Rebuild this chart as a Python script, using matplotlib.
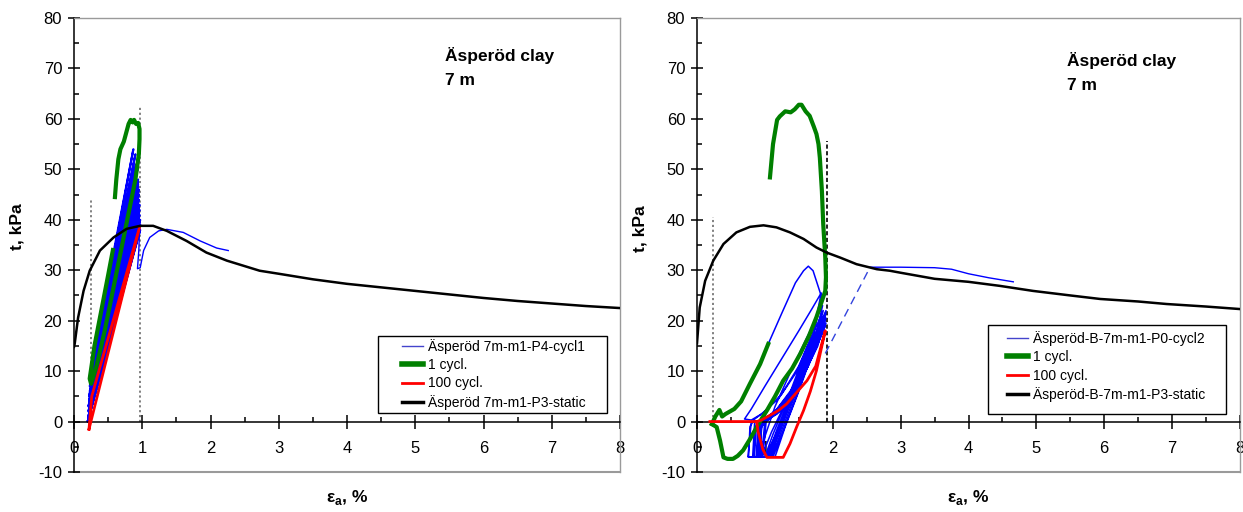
import matplotlib
matplotlib.use("Agg")
import matplotlib.pyplot as plt
from matplotlib.patches import Rectangle

plt.rcParams['font.family'] = ['Liberation Sans', 'DejaVu Sans']
plt.rcParams['mathtext.fontset'] = 'custom'
plt.rcParams['mathtext.rm'] = 'Liberation Sans'
plt.rcParams['mathtext.bf'] = 'Liberation Sans:bold'
plt.rcParams['axes.unicode_minus'] = False

# ---------------- data ----------------
# Left panel: static test
L_static_x = [0.0, 0.01, 0.06, 0.14, 0.23, 0.38, 0.58, 0.77, 0.97, 1.16, 1.36, 1.65, 1.94, 2.24,
              2.72, 3.0, 3.5, 4.0, 4.5, 5.0, 5.5, 6.0, 6.5, 7.0, 7.5, 8.0]
L_static_y = [14.8, 15.4, 20.6, 25.9, 29.9, 33.9, 36.5, 38.2, 38.8, 38.8, 37.8, 35.8, 33.5, 31.9,
              29.9, 29.3, 28.2, 27.3, 26.6, 25.9, 25.2, 24.5, 23.9, 23.4, 22.9, 22.5]
# Left panel: cyclic record (turning points, bottom / top alternating)
L_cyc_x = [0.23, 0.87, 0.24, 0.90, 0.23, 0.91, 0.24, 0.93, 0.23, 0.94, 0.22, 0.94, 0.23, 0.95,
           0.22, 0.95, 0.22, 0.95, 0.22, 0.96, 0.21, 0.96, 0.21, 0.96, 0.21, 0.97, 0.20, 0.97,
           0.20, 0.97, 0.21]
L_cyc_y = [9, 54, 8, 53, 7, 51, 7, 50, 6, 48, 5, 47, 5, 46,
           4, 45, 4, 44, 3, 43, 3, 42, 2, 41, 1, 40, 0, 39,
           0, 38, 1]
# Left panel: post-cyclic monotonic part
L_post_x = [0.96, 0.95, 0.93, 0.97, 1.02, 1.11, 1.24, 1.36, 1.60, 1.85, 2.09, 2.26]
L_post_y = [38.0, 34.0, 30.3, 30.5, 33.9, 36.5, 37.8, 38.1, 37.5, 35.8, 34.4, 33.9]
# Left panel: first cycle
L_c1_x = [0.60, 0.62, 0.65, 0.68, 0.73, 0.77, 0.80, 0.83, 0.86, 0.88, 0.91, 0.94, 0.96, 0.96,
          0.95, 0.90, 0.75, 0.60, 0.45, 0.33, 0.25, 0.23, 0.30, 0.40, 0.50, 0.57]
L_c1_y = [44.5, 48.0, 52.0, 54.0, 55.5, 57.5, 59.0, 59.8, 59.3, 59.8, 59.0, 59.2, 58.0, 56.0,
          53.0, 48.0, 38.0, 28.0, 18.0, 11.0, 7.5, 8.5, 15.0, 22.0, 29.0, 34.0]
# Left panel: 100th cycle
L_c100_x = [0.22, 0.96, 0.26, 0.22]
L_c100_y = [-1.5, 38.5, 5.0, -1.5]
# Left panel: reference strain lines (x, top)
L_vlines_x = [0.245, 0.967]
L_vlines_top = [44.2, 62.6]

# Right panel: static test
R_static_x = [0.0, 0.04, 0.12, 0.24, 0.39, 0.58, 0.78, 0.98, 1.17, 1.37, 1.57, 1.76, 1.91, 2.11,
              2.35, 2.65, 2.84, 3.0, 3.5, 4.0, 4.46, 4.95, 5.5, 5.94, 6.5, 6.92, 7.5, 8.0]
R_static_y = [15.5, 22.6, 27.9, 31.9, 35.2, 37.5, 38.6, 38.9, 38.5, 37.5, 36.2, 34.5, 33.5, 32.5,
              31.2, 30.2, 29.9, 29.5, 28.3, 27.7, 26.9, 25.9, 25.0, 24.3, 23.8, 23.3, 22.8, 22.3]
# Right panel: cyclic record
R_cyc_x = [1.05, 1.25, 1.45, 1.57, 1.64, 1.71, 1.79, 1.84,
           1.70, 1.45, 1.20, 0.95, 0.80, 0.70,
           0.80, 1.00, 1.25, 1.50, 1.70, 1.83,
           1.72, 1.50, 1.25, 1.00, 0.85, 0.78, 0.76,
           0.92, 1.00, 1.15, 1.40, 1.65, 1.85,
           1.70, 1.45, 1.20, 0.95, 0.86, 0.84,
           1.00, 1.12, 1.35, 1.60, 1.86,
           1.72, 1.50, 1.28, 1.05, 0.92, 0.88,
           1.03, 1.18, 1.40, 1.63, 1.87,
           1.75, 1.55, 1.30, 1.05, 0.93, 0.90,
           1.05, 1.22, 1.43, 1.65, 1.88,
           1.77, 1.58, 1.35, 1.10, 0.95, 0.92,
           1.08, 1.25, 1.46, 1.67, 1.88,
           1.78, 1.60, 1.38, 1.12, 0.97, 0.80, 0.75,
           0.95, 1.10, 1.28, 1.50, 1.70, 1.89,
           1.79, 1.62, 1.40, 1.15, 1.00, 0.85, 0.82,
           1.00, 1.13, 1.32, 1.54, 1.72, 1.89,
           1.80, 1.64, 1.42, 1.18, 1.00, 0.88, 0.84,
           1.02, 1.16, 1.36, 1.58, 1.76, 1.89,
           1.80, 1.62, 1.40, 1.15, 0.98, 0.90, 0.87,
           1.06, 1.20, 1.40, 1.62, 1.78, 1.90,
           1.78, 1.60, 1.36, 1.12, 0.96, 0.92,
           1.10, 1.24, 1.44, 1.66, 1.80, 1.90,
           1.80, 1.64, 1.42, 1.18, 1.00, 0.95,
           1.12, 1.28, 1.48, 1.68, 1.82, 1.90,
           1.82, 1.66, 1.45, 1.22, 1.02, 0.97,
           1.15, 1.30, 1.50, 1.70, 1.90]
R_cyc_y = [15.4, 21.5, 27.5, 29.9, 30.8, 29.9, 26.6, 24.5,
           16.5, 9.5, 4.5, 1.5, 0.3, 0.5,
           2.5, 7.0, 12.5, 18.0, 22.5, 25.5,
           18.0, 11.0, 5.5, 2.0, 0.5, -1.0, -7.0,
           -7.0, -3.0, 3.0, 10.5, 17.5, 23.0,
           14.0, 6.5, 2.0, 0.5, -1.5, -7.0,
           -7.0, -2.5, 5.0, 14.0, 22.0,
           14.5, 7.5, 3.0, 0.5, -1.0, -7.0,
           -7.0, -1.5, 6.0, 14.5, 21.0,
           14.5, 8.5, 3.5, 0.8, -1.5, -7.0,
           -7.0, -1.0, 6.5, 14.5, 20.5,
           15.5, 9.5, 4.5, 1.0, -1.0, -7.0,
           -7.0, -0.5, 7.0, 14.5, 20.0,
           15.0, 10.0, 5.0, 1.5, 0.0, 0.0, -7.0,
           -7.0, -2.0, 3.0, 9.0, 15.0, 21.5,
           16.0, 10.5, 5.5, 2.0, 0.5, 0.0, -7.0,
           -7.0, -3.5, 2.0, 8.5, 13.5, 19.0,
           16.0, 11.5, 6.5, 2.5, 0.5, 0.0, -7.0,
           -7.0, -3.0, 3.5, 11.0, 17.0, 21.0,
           17.5, 12.0, 6.5, 2.0, 0.3, -1.0, -7.0,
           -7.0, -2.5, 4.5, 12.5, 18.0, 22.0,
           16.0, 10.5, 5.0, 1.5, 0.0, -7.0,
           -7.0, -2.0, 5.0, 13.0, 18.5, 21.5,
           16.5, 11.0, 5.5, 1.5, 0.0, -7.0,
           -7.0, -1.5, 5.5, 13.0, 18.5, 20.5,
           17.0, 12.0, 6.0, 2.0, 0.2, -7.0,
           -7.0, -1.0, 6.0, 13.5, 19.5]
# Right panel: post-cyclic part (dashed jump, then monotonic)
R_jump_x = [1.89, 2.55]
R_jump_y = [13.5, 30.6]
R_post_x = [2.55, 3.0, 3.5, 3.75, 4.0, 4.3, 4.66]
R_post_y = [30.6, 30.6, 30.5, 30.2, 29.3, 28.5, 27.7]
# Right panel: first cycle (two pieces)
R_c1a_x = [0.22, 0.27, 0.33, 0.37, 0.42, 0.55, 0.65, 0.78, 0.93, 1.05]
R_c1a_y = [-0.5, 1.0, 2.3, 1.0, 1.5, 2.5, 4.0, 7.5, 11.4, 15.4]
R_c1b_x = [1.075, 1.12, 1.18, 1.22, 1.30, 1.38, 1.44, 1.50, 1.54, 1.60, 1.66, 1.72, 1.76, 1.79,
           1.81, 1.84, 1.86, 1.89, 1.90, 1.89, 1.83, 1.76, 1.65, 1.52, 1.40, 1.27, 1.15, 1.03,
           0.95, 0.88, 0.78, 0.68, 0.60, 0.53, 0.45, 0.39, 0.34, 0.29, 0.22]
R_c1b_y = [48.4, 55.0, 59.8, 60.5, 61.5, 61.3, 61.9, 62.8, 62.8, 61.5, 60.6, 58.5, 57.0, 55.0,
           52.3, 45.7, 39.1, 32.5, 28.6, 25.9, 23.5, 20.7, 17.0, 13.4, 10.5, 8.1, 5.0, 2.2,
           0.5, -1.1, -3.5, -5.7, -6.8, -7.4, -7.4, -7.1, -3.8, -1.1, -0.5]
# Right panel: 100th cycle
R_c100_x = [0.19, 0.50, 0.88, 0.90, 0.97, 1.03, 1.15, 1.27, 1.37, 1.47, 1.57, 1.67, 1.76, 1.84,
            1.89, 1.75, 1.62, 1.45, 1.32, 1.20, 1.07, 0.95, 0.88]
R_c100_y = [0.0, 0.0, 0.0, -2.0, -5.5, -7.1, -7.1, -7.1, -4.4, -1.0, 2.2, 6.0, 10.1, 15.0,
            18.0, 11.0, 8.1, 5.5, 3.5, 2.2, 1.2, 0.3, 0.0]
R_vlines_x = [0.23, 1.91]
R_vlines_top = [40.5, 55.6]

x_ticks = [0, 1, 2, 3, 4, 5, 6, 7, 8]
y_ticks = [-10, 0, 10, 20, 30, 40, 50, 60, 70, 80]
title_text = "Äsperöd clay\n7 m"
L_labels = ["Äsperöd 7m-m1-P4-cycl1", "1 cycl.", "100 cycl.", "Äsperöd 7m-m1-P3-static"]
R_labels = ["Äsperöd-B-7m-m1-P0-cycl2", "1 cycl.", "100 cycl.", "Äsperöd-B-7m-m1-P3-static"]

BLUE = '#0000ff'
GREEN = '#008000'
RED = '#ff0000'
GRAY = '#9a9a9a'

W, H = 1243, 512
fig = plt.figure(figsize=(W / 100, H / 100), dpi=100)
axL = fig.add_axes([74 / W, 40 / H, 546 / W, 454 / H])
axR = fig.add_axes([697 / W, 40 / H, 543 / W, 454 / H])


def style(ax):
    ax.set_xlim(0, 8)
    ax.set_ylim(-10, 80)
    ax.set_xticks(x_ticks)
    ax.set_xticks([v + 0.5 for v in x_ticks[:-1]], minor=True)
    ax.set_yticks(y_ticks)
    ax.set_yticks([v + 5 for v in y_ticks[:-1]], minor=True)
    ax.spines['bottom'].set_position(('data', 0))
    ax.spines['bottom'].set_color('black')
    ax.spines['bottom'].set_linewidth(1.1)
    ax.spines['left'].set_color('black')
    ax.spines['left'].set_linewidth(1.1)
    for s in ['top', 'right']:
        ax.spines[s].set_color(GRAY)
        ax.spines[s].set_linewidth(1.0)
    ax.axhline(-10, color=GRAY, lw=1.5, clip_on=False, zorder=0)
    ax.tick_params(axis='x', which='major', direction='inout', length=10, width=1.1,
                   labelsize=12, pad=9)
    ax.tick_params(axis='x', which='minor', direction='in', length=3.6, width=1.1)
    ax.tick_params(axis='y', which='major', direction='inout', length=9, width=1.1,
                   labelsize=12, pad=4)
    ax.tick_params(axis='y', which='minor', direction='in', length=3.6, width=1.1)
    ax.set_ylabel('t, kPa', fontsize=12.5, fontweight='bold')
    ax.yaxis.label.set_va('center')
    ax.set_xlabel(r'ε$_{\mathbf{a}}$, %', fontsize=12.5, fontweight='bold')
    ax.xaxis.set_label_coords(0.5, -0.057)
    ax.xaxis.label.set_va('center')


style(axL)
style(axR)
axL.yaxis.set_label_coords(-0.104, 0.54)
axR.yaxis.set_label_coords(-0.105, 0.535)

# ---- left panel ----
for vx, vt in zip(L_vlines_x, L_vlines_top):
    axL.plot([vx, vx], [0, vt], color='#777777', lw=1.3, ls=(0, (1.2, 1.5)), zorder=1)
hL = []
hL += axL.plot(L_cyc_x, L_cyc_y, color=BLUE, lw=1.5, zorder=2)
axL.plot(L_post_x, L_post_y, color=BLUE, lw=1.0, zorder=2)
hL += axL.plot(L_c1_x, L_c1_y, color=GREEN, lw=3.0, zorder=3)
hL += axL.plot(L_c100_x, L_c100_y, color=RED, lw=2.0, zorder=3)
hL += axL.plot(L_static_x, L_static_y, color='black', lw=1.8, zorder=4)
axL.text(0.68, 0.936, title_text, transform=axL.transAxes, fontsize=12.5, fontweight='bold',
         va='top', ha='left', linespacing=1.75)

# ---- right panel ----
axR.plot([R_vlines_x[0]] * 2, [0, R_vlines_top[0]], color='#777777', lw=1.3,
         ls=(0, (1.2, 1.5)), zorder=1)
axR.plot([R_vlines_x[1]] * 2, [0, R_vlines_top[1]], color='black', lw=1.2,
         ls=(0, (2.5, 1.5)), zorder=1)
hR = []
hR += axR.plot(R_cyc_x, R_cyc_y, color=BLUE, lw=1.1, zorder=2)
axR.plot(R_jump_x, R_jump_y, color='#3344dd', lw=1.0, ls=(0, (6, 4)), zorder=2)
axR.plot(R_post_x, R_post_y, color=BLUE, lw=1.0, zorder=2)
hR += axR.plot(R_c1a_x, R_c1a_y, color=GREEN, lw=3.0, zorder=3)
axR.plot(R_c1b_x, R_c1b_y, color=GREEN, lw=3.0, zorder=3)
hR += axR.plot(R_c100_x, R_c100_y, color=RED, lw=2.0, zorder=3)
hR += axR.plot(R_static_x, R_static_y, color='black', lw=1.8, zorder=4)
axR.text(0.681, 0.926, title_text, transform=axR.transAxes, fontsize=12.5, fontweight='bold',
         va='top', ha='left', linespacing=1.75)

# legends: box drawn as a plain rectangle, entries placed without frame
for ax, handles, labels, box, anchor in [
        (axL, hL, L_labels, (0.5568, 0.13, 0.4194, 0.1696), (0.6007, 0.294)),
        (axR, hR, R_labels, (0.5359, 0.1278, 0.4383, 0.196), (0.5704, 0.311))]:
    ax.add_patch(Rectangle((box[0], box[1]), box[2], box[3], transform=ax.transAxes,
                           facecolor='white', edgecolor='black', lw=1.0, zorder=5))
    leg = ax.legend(handles, labels, loc='upper left', bbox_to_anchor=anchor,
                    borderaxespad=0, borderpad=0, fontsize=10, frameon=False,
                    handlelength=1.5, handletextpad=0.36, labelspacing=0.32)
    leg.set_zorder(6)
    for h, lw in zip(leg.get_lines(), [1.0, 4.0, 2.0, 2.5]):
        h.set_linewidth(lw)
    leg.get_lines()[0].set_color('#4444cc')

fig.savefig('out.png', dpi=100)
